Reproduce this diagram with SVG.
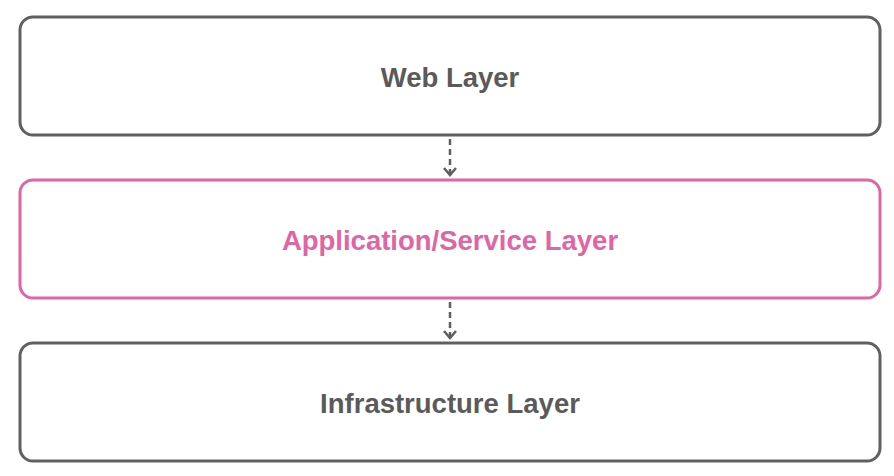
<svg xmlns="http://www.w3.org/2000/svg" width="894" height="476" viewBox="0 0 894 476">
<defs>
<style>
.box{fill:#fff;stroke:#606060;stroke-width:3}
.pink{stroke:#E065A3}
.lbl{font-family:"Liberation Sans",Arial,sans-serif;font-weight:bold;font-size:27.5px;fill:#5a5a5a;text-anchor:middle}
.lp{fill:#E065A3}
.conn{stroke:#5f5f5f;stroke-width:2.5;fill:none}
</style>
</defs>
<g id="web"><rect class="box" x="20" y="17" width="860" height="118" rx="13"/><text class="lbl" x="450" y="87">Web Layer</text></g>
<g id="app"><rect class="box pink" x="20" y="180" width="860" height="118" rx="13"/><text class="lbl lp" x="450" y="250">Application/Service Layer</text></g>
<g id="infra"><rect class="box" x="20" y="343" width="860" height="118" rx="13"/><text class="lbl" x="450" y="413">Infrastructure Layer</text></g>
<g id="connectors">
<line class="conn" x1="450" y1="139" x2="450" y2="176" stroke-dasharray="6,4"/>
<path class="conn" d="M444,168 L450,175 L456,168"/>
<line class="conn" x1="450" y1="302" x2="450" y2="339" stroke-dasharray="6,4"/>
<path class="conn" d="M444,331 L450,338 L456,331"/>
</g>
</svg>
